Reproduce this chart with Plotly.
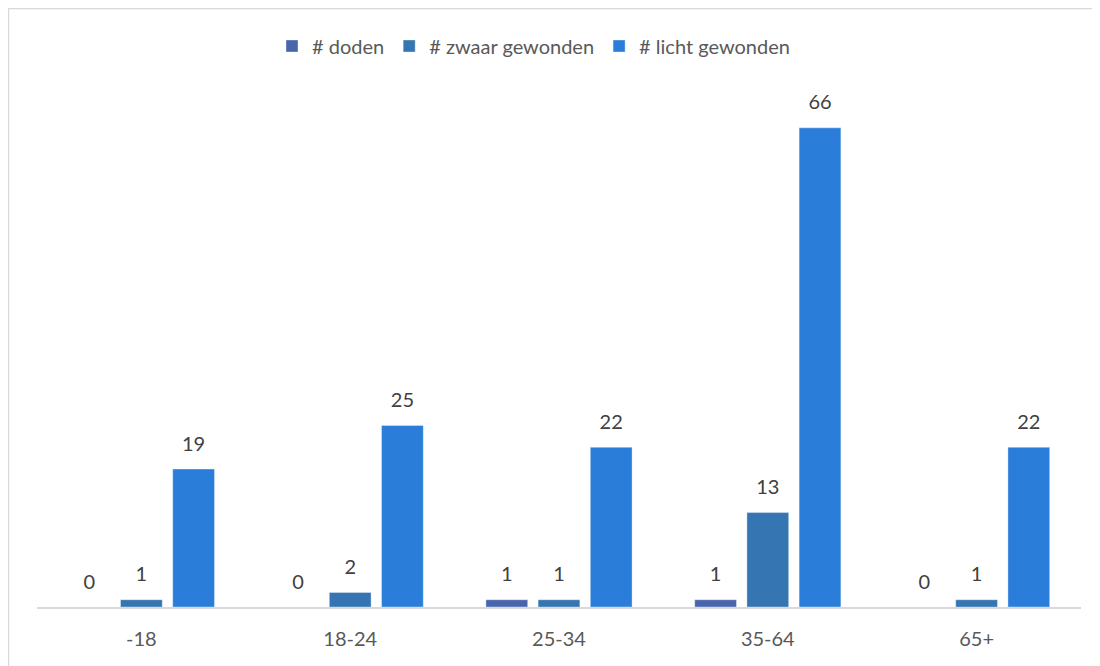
import plotly.graph_objects as go

categories = ["-18", "18-24", "25-34", "35-64", "65+"]
doden = [0, 0, 1, 1, 0]
zwaar_gewonden = [1, 2, 1, 13, 1]
licht_gewonden = [19, 25, 22, 66, 22]

series = [
    ("# doden", doden, "#4865AD"),
    ("# zwaar gewonden", zwaar_gewonden, "#3575B1"),
    ("# licht gewonden", licht_gewonden, "#2A7ED9"),
]

# page has an 8px body margin; the figure is sized to fill the rest of the window
OFF = 8
W, H = 1100 - OFF, 666 - OFF
L, R, T, B = 37 - OFF, 1100 - 1081, 90 - OFF, 666 - 607
pw, ph = W - L - R, H - T - B
FONT = "Lato, Open Sans, sans-serif"

fig = go.Figure()
for i, (name, vals, color) in enumerate(series):
    fig.add_trace(go.Bar(
        x=categories, y=vals, name=name,
        marker=dict(color=color, line=dict(color="rgba(255,255,255,0.35)", width=1)),
        offsetgroup=str(i), alignmentgroup="a",
    ))
for i, (name, vals, color) in enumerate(series):
    fig.add_trace(go.Scatter(
        x=categories, y=vals, name=name, showlegend=False,
        mode="markers+text", marker=dict(size=20, opacity=0, color=color),
        text=[str(v) for v in vals], textposition="top center",
        textfont=dict(family=FONT, size=20, color="#404040"),
        offsetgroup=str(i), alignmentgroup="a",
        cliponaxis=False, hoverinfo="skip",
    ))

fig.update_layout(
    width=W, height=H,
    margin=dict(l=L, r=R, t=T, b=B),
    paper_bgcolor="white", plot_bgcolor="white",
    barmode="group", bargap=0.25, bargroupgap=0.2,
    scattermode="group", scattergap=0.25,
    font=dict(family=FONT, color="#595959"),
    legend=dict(orientation="h", x=(533.5 - 37) / pw, xanchor="center",
                y=1.0 + (T - (46 - OFF)) / ph, yanchor="middle",
                font=dict(size=20, color="#595959"), itemwidth=30, traceorder="normal",
                bgcolor="rgba(0,0,0,0)"),
    xaxis=dict(showline=True, linecolor="#D9D9D9", linewidth=1.5, showgrid=False,
               ticks="outside", ticklen=13, tickcolor="rgba(0,0,0,0)",
               tickfont=dict(size=20, color="#595959")),
    yaxis=dict(visible=False, range=[0, ph / 7.26], showgrid=False, zeroline=False),
    shapes=[dict(type="rect", xref="paper", yref="paper",
                 x0=(0.6 - L) / pw, x1=(W + 20 - L) / pw,
                 y0=-(B + 20) / ph, y1=(ph + T - 0.6) / ph,
                 line=dict(color="#D9D9D9", width=1.2), fillcolor="rgba(0,0,0,0)", layer="below")],
)

fig.write_html("out.html")
